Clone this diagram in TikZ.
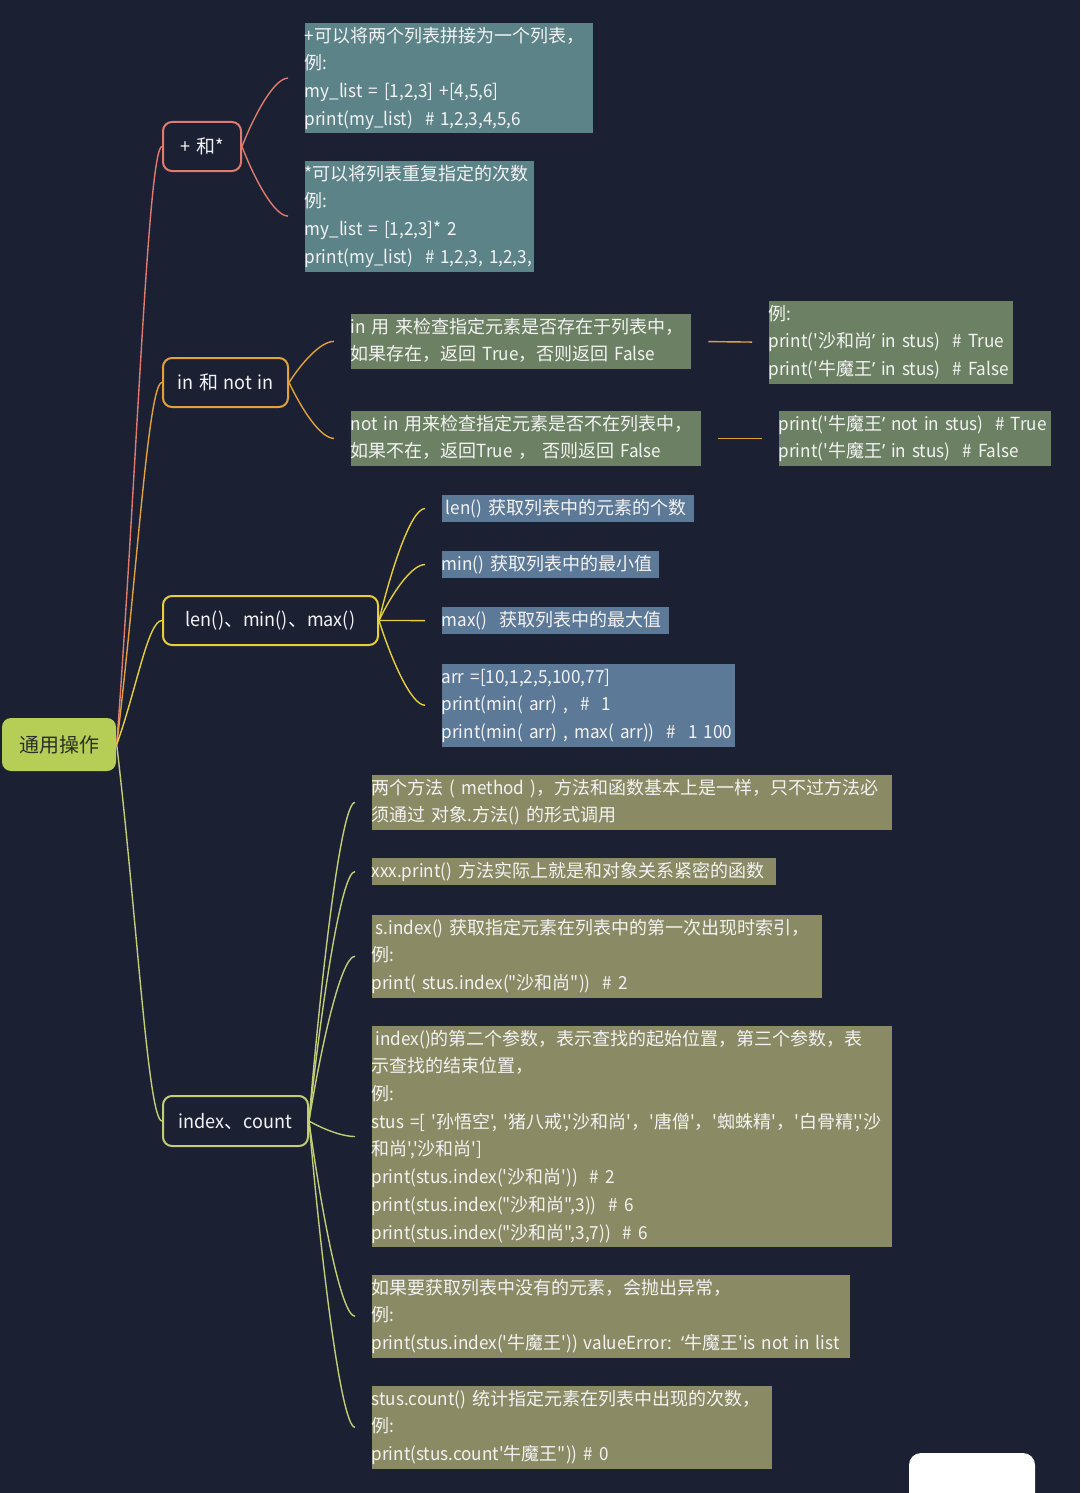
\documentclass[tikz,border=0pt]{standalone}
\usepackage{fontspec}
\setmainfont{Noto Sans CJK SC}[Ligatures=TeXOff, FakeStretch=0.95, WordSpace=0.8]
\newfontfamily\latinfont{Noto Sans CJK SC}[Ligatures=TeXOff, FakeStretch=0.95, WordSpace=0.8]
\newfontfamily\hanfont{Noto Sans CJK SC}[Ligatures=TeXOff]
\newfontfamily\quotefont{Noto Sans}
\usepackage{tikz}
\usetikzlibrary{calc}

% 汉字用原宽字体，西文用略窄的字体
\XeTeXinterchartokenstate=1
\newXeTeXintercharclass\hanclass
\newcount\hancode
\newcommand{\sethanrange}[2]{%
  \hancode=#1\relax
  \loop
    \XeTeXcharclass\hancode=\hanclass
    \ifnum\hancode<#2\relax \advance\hancode by 1 \repeat}
\sethanrange{"3000}{"303F}
\sethanrange{"4E00}{"9FFF}
\sethanrange{"FF00}{"FFEF}
\XeTeXinterchartoks 0 \hanclass = {\hanfont}
\XeTeXinterchartoks 4095 \hanclass = {\hanfont}
\XeTeXinterchartoks \hanclass 0 = {\latinfont}
\XeTeXinterchartoks \hanclass 4095 = {\latinfont}

\definecolor{bgnavy}{HTML}{1B2033}
\definecolor{rootlime}{HTML}{B6CE56}
\definecolor{rootink}{HTML}{2B2F2A}
\definecolor{lnsalmon}{HTML}{E07B6F}
\definecolor{lnorange}{HTML}{E3A13C}
\definecolor{lnyellow}{HTML}{E7CE3C}
\definecolor{lngreen}{HTML}{C2CD77}
\definecolor{boxteal}{HTML}{5C8388}
\definecolor{boxsage}{HTML}{6C8163}
\definecolor{boxslate}{HTML}{5C7997}
\definecolor{boxolive}{HTML}{8A8A65}
\definecolor{txtwhite}{HTML}{F3F3F3}

\newcommand{\leaffont}{\fontsize{18}{27.7}\selectfont}
% 每行不折断
\newcommand{\boxlines}[1]{\begin{tabular}{@{}l@{}}#1\end{tabular}}
% 半角的弯引号
\newcommand{\qr}{{\quotefont ’}}
\newcommand{\ql}{{\quotefont ‘}}

\begin{document}
\begin{tikzpicture}[x=1pt, y=-1pt, line width=1.4pt,
    branch/.style={draw=#1, line width=2pt, rounded corners=9pt, fill=bgnavy,
        text=txtwhite, minimum height=49pt, inner sep=0pt,
        font={\fontsize{19}{22}\selectfont\spaceskip=5.5pt plus 1pt}},
    leaf/.style={fill=#1, text=txtwhite, inner sep=0pt, anchor=north west,
        align=left, font=\leaffont},
    twig/.style={to path={let \p1=(\tikztostart), \p2=(\tikztotarget) in
        .. controls +(#1,{0.45*((\y2)-(\y1))}) and +(-14pt,0pt) .. (\tikztotarget)}},
    twig/.default=12pt]

    % =================================================================
    % 1. 画布与背景
    % =================================================================
    \useasboundingbox (0,0) rectangle (1080,1493);
    \fill[bgnavy] (0,0) rectangle (1080,1493);

    % =================================================================
    % 2. 中心主题与四个分支
    % =================================================================
    \node[fill=rootlime, text=rootink, rounded corners=9pt, minimum width=114pt,
        minimum height=53pt, font=\fontsize{20}{24}\selectfont] (root) at (59,744.5) {通用操作};

    \node[branch=lnsalmon, minimum width=78pt] (plus) at (202,146.5) {+ 和*};
    \node[branch=lnorange, minimum width=125pt] (inop) at (225.5,382.5) {in 和 not in};
    \node[branch=lnyellow, minimum width=215pt] (lenop) at (270.5,620.5) {len()、min()、max()};
    \node[branch=lngreen, minimum width=145pt, minimum height=50pt] (idx) at (235.5,1121) {index、count};

    % 主题到分支的曲线
    \draw[lnsalmon, twig=20pt] (root.east) to (plus.west);
    \draw[lnorange, twig=20pt] (root.east) to (inop.west);
    \draw[lnyellow, twig=20pt] (root.east) to (lenop.west);
    \draw[lngreen, twig=20pt] (root.east) to (idx.west);

    % =================================================================
    % 3. + 和 *
    % =================================================================
    \node[leaf=boxteal, text width=288pt] (p1) at (304,22)
        {\boxlines{+可以将两个列表拼接为一个列表，\\例:\\my\_list = [1,2,3] +[4,5,6]\\print(my\_list)\ \ \# 1,2,3,4,5,6}};
    \node[leaf=boxteal, text width=229pt] (p2) at (304,160)
        {\boxlines{*可以将列表重复指定的次数\\例:\\my\_list = [1,2,3]* 2\\print(my\_list)\ \ \# 1,2,3, 1,2,3,}};

    \draw[lnsalmon, twig] (plus.east) to ([xshift=-16pt]p1.west);
    \draw[lnsalmon, twig] (plus.east) to ([xshift=-16pt]p2.west);

    % =================================================================
    % 4. in 和 not in
    % =================================================================
    \node[leaf=boxsage, text width=340pt] (i1) at (350,313)
        {\boxlines{in 用 来检查指定元素是否存在于列表中，\\如果存在，返回 True，否则返回 False}};
    \node[leaf=boxsage, text width=350pt] (i2) at (350,410)
        {\boxlines{not in 用来检查指定元素是否不在列表中，\\如果不在，返回True ， 否则返回 False}};
    \node[leaf=boxsage, text width=244pt] (i1x) at (768,300)
        {\boxlines{例:\\print('沙和尚\qr\ in stus)\ \ \# True\\print('牛魔王\qr\ in stus)\ \ \# False}};
    \node[leaf=boxsage, text width=272pt] (i2x) at (778,410)
        {\boxlines{print('牛魔王\qr\ not in stus)\ \ \# True\\print('牛魔王\qr\ in stus)\ \ \# False}};

    \draw[lnorange, twig] (inop.east) to ([xshift=-16pt]i1.west);
    \draw[lnorange, twig] (inop.east) to ([xshift=-16pt]i2.west);
    \draw[lnorange, shorten <=17pt, shorten >=16pt] (i1.east) -- (i1x.west);
    \draw[lnorange, shorten <=17pt, shorten >=16pt] (i2.east) -- (i2x.west);

    % =================================================================
    % 5. len()、min()、max()
    % =================================================================
    \node[leaf=boxslate, text width=252pt] (l1) at (441,494) {\boxlines{\hspace{4pt}len() 获取列表中的元素的个数}};
    \node[leaf=boxslate, text width=217pt] (l2) at (441,550) {\boxlines{min() 获取列表中的最小值}};
    \node[leaf=boxslate, text width=227pt] (l3) at (441,606) {\boxlines{max()\ \ 获取列表中的最大值}};
    \node[leaf=boxslate, text width=293pt] (l4) at (441,663)
        {\boxlines{arr =[10,1,2,5,100,77]\\print(min( arr) ,\ \ \#\ \ 1\\print(min( arr) , max( arr))\ \ \#\ \ 1 100}};

    \draw[lnyellow, twig] (lenop.east) to ([xshift=-16pt]l1.west);
    \draw[lnyellow, twig] (lenop.east) to ([xshift=-16pt]l2.west);
    \draw[lnyellow, twig] (lenop.east) to ([xshift=-16pt]l3.west);
    \draw[lnyellow, twig] (lenop.east) to ([xshift=-16pt]l4.west);

    % =================================================================
    % 6. index、count
    % =================================================================
    \node[leaf=boxolive, text width=520pt] (x1) at (371,774)
        {\boxlines{两个方法 ( method )，方法和函数基本上是一样，只不过方法必\\须通过 对象.方法() 的形式调用}};
    \node[leaf=boxolive, text width=404pt] (x2) at (371,857)
        {\boxlines{xxx.print() 方法实际上就是和对象关系紧密的函数}};
    \node[leaf=boxolive, text width=450pt] (x3) at (371,914)
        {\boxlines{\hspace{4pt}s.index() 获取指定元素在列表中的第一次出现时索引，\\例:\\print( stus.index("沙和尚"))\ \ \# 2}};
    \node[leaf=boxolive, text width=520pt] (x4) at (371,1025)
        {\boxlines{\hspace{4pt}index()的第二个参数，表示查找的起始位置，第三个参数，表\\示查找的结束位置，\\例:\\stus =[ '孙悟空', '猪八戒','沙和尚'，'唐僧'，'蜘蛛精'，'白骨精','沙\\和尚','沙和尚']\\print(stus.index('沙和尚'))\ \ \# 2\\print(stus.index("沙和尚",3))\ \ \# 6\\print(stus.index("沙和尚",3,7))\ \ \# 6}};
    \node[leaf=boxolive, text width=478pt] (x5) at (371,1274)
        {\boxlines{如果要获取列表中没有的元素，会抛出异常，\\例:\\print(stus.index('牛魔王')) valueError: \ql 牛魔王'is not in list}};
    \node[leaf=boxolive, text width=400pt] (x6) at (371,1385)
        {\boxlines{stus.count() 统计指定元素在列表中出现的次数，\\例:\\print(stus.count'牛魔王"))\ \# 0}};

    \draw[lngreen, twig] (idx.east) to ([xshift=-16pt]x1.west);
    \draw[lngreen, twig] (idx.east) to ([xshift=-16pt]x2.west);
    \draw[lngreen, twig] (idx.east) to ([xshift=-16pt]x3.west);
    \draw[lngreen, twig] (idx.east) to ([xshift=-16pt]x4.west);
    \draw[lngreen, twig] (idx.east) to ([xshift=-16pt]x5.west);
    \draw[lngreen, twig] (idx.east) to ([xshift=-16pt]x6.west);

    % 右下角的白色圆角块
    \fill[white, rounded corners=12pt] (909,1453) rectangle (1035,1520);

\end{tikzpicture}
\end{document}
